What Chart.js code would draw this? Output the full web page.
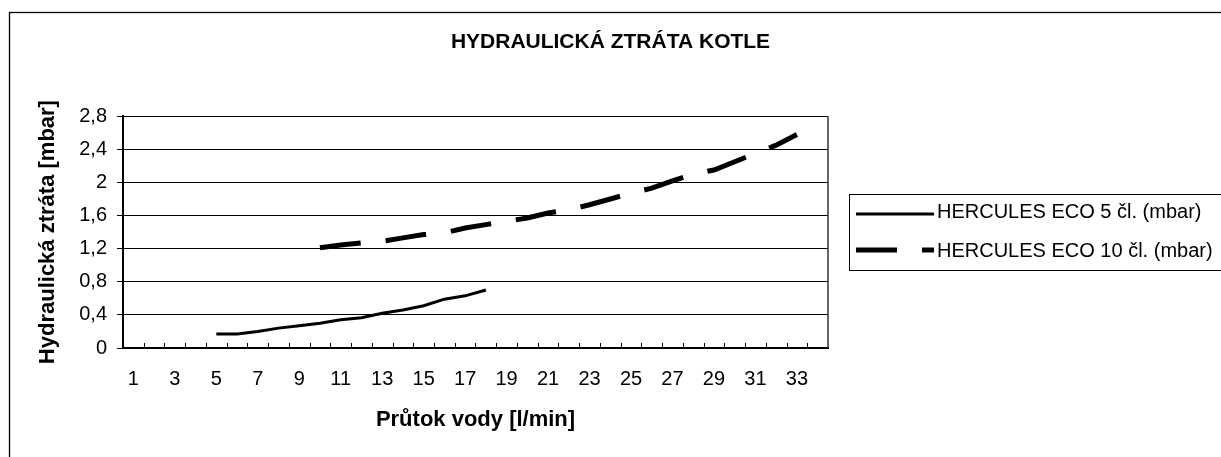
<!DOCTYPE html>
<html>
<head>
<meta charset="utf-8">
<script src="https://cdn.jsdelivr.net/npm/chart.js@4"></script>
<style>
  html, body { margin: 0; padding: 0; background: #fff; }
  #wrap { width: 1221px; height: 457px; }
</style>
</head>
<body>
<div id="wrap"><canvas id="lossChart" width="1221" height="457"></canvas></div>
<script>
// flow categories 1..34 l/min (labels shown on every other one)
const flowLabels = ['1','2','3','4','5','6','7','8','9','10','11','12','13','14','15','16','17',
  '18','19','20','21','22','23','24','25','26','27','28','29','30','31','32','33','34'];

// HERCULES ECO 5 čl. -> 5..18 l/min
const eco5Values = [null, null, null, null,
  0.17, 0.17, 0.20, 0.24, 0.27, 0.30, 0.34, 0.365, 0.42, 0.46, 0.51, 0.59, 0.63, 0.70,
  null, null, null, null, null, null, null, null, null, null, null, null, null, null, null, null];

// HERCULES ECO 10 čl. -> 10..33 l/min
const eco10Values = [null, null, null, null, null, null, null, null, null,
  1.21, 1.245, 1.27, 1.29, 1.33, 1.37, 1.39, 1.45, 1.49, 1.53, 1.57, 1.63, 1.67,
  1.73, 1.80, 1.87, 1.93, 2.02, 2.10, 2.15, 2.25, 2.35, 2.45, 2.58,
  null];

const yTickValues = [0, 0.4, 0.8, 1.2, 1.6, 2, 2.4, 2.8];

const seriesNames = ['HERCULES ECO 5 čl. (mbar)', 'HERCULES ECO 10 čl. (mbar)'];

const FONT = "'Liberation Sans', Arial, sans-serif";
Chart.defaults.color = '#000';
Chart.defaults.font.family = FONT;

// outer frame, plot border, inner x ticks and legend box
const excelLook = {
  id: 'excelLook',
  beforeDraw(chart) {
    const ctx = chart.ctx;
    ctx.save();
    ctx.fillStyle = '#fff';
    ctx.fillRect(0, 0, chart.width, chart.height);
    ctx.strokeStyle = '#000';
    ctx.lineWidth = 1.3;
    ctx.strokeRect(9.5, 12.5, 1300, 500);
    ctx.restore();
  },
  afterDraw(chart) {
    const ctx = chart.ctx;
    const area = chart.chartArea;
    const xs = chart.scales.x;
    ctx.save();
    // right border of plot
    ctx.strokeStyle = '#333';
    ctx.lineWidth = 1.5;
    ctx.beginPath();
    ctx.moveTo(area.right, area.top);
    ctx.lineTo(area.right, area.bottom);
    ctx.stroke();
    // tick marks between categories, pointing up into the plot
    const step = xs.getPixelForValue(1) - xs.getPixelForValue(0);
    ctx.strokeStyle = '#000';
    ctx.lineWidth = 1;
    for (let i = 1; i < flowLabels.length; i++) {
      const x = Math.round(xs.getPixelForValue(0) - step / 2 + i * step) + 0.5;
      ctx.beginPath();
      ctx.moveTo(x, area.bottom);
      ctx.lineTo(x, area.bottom - 5);
      ctx.stroke();
    }
    // legend
    const lx = 849, top = 194, bottom = 270;
    ctx.lineWidth = 1;
    ctx.strokeRect(lx + 0.5, top + 0.5, 400, bottom - top);
    const rows = [212, 251];
    ctx.font = '20px ' + FONT;
    ctx.textBaseline = 'middle';
    ctx.textAlign = 'left';
    chart.data.datasets.forEach((ds, i) => {
      const y = rows[i];
      ctx.strokeStyle = ds.borderColor;
      ctx.lineWidth = ds.borderWidth;
      ctx.setLineDash(ds.borderDash || []);
      ctx.beginPath();
      ctx.moveTo(856, y + (i === 0 ? 2 : -1));
      ctx.lineTo(934, y + (i === 0 ? 2 : -1));
      ctx.stroke();
      ctx.setLineDash([]);
      ctx.fillStyle = '#000';
      ctx.fillText(ds.label, 937, y);
    });
    ctx.restore();
  }
};

new Chart(document.getElementById('lossChart'), {
  type: 'line',
  data: {
    labels: flowLabels,
    datasets: [{
      label: seriesNames[0],
      data: eco5Values,
      borderColor: '#000',
      borderWidth: 3,
      pointRadius: 0,
      tension: 0
    }, {
      label: seriesNames[1],
      data: eco10Values,
      borderColor: '#000',
      borderWidth: 5,
      borderDash: [41, 25],
      borderCapStyle: 'butt',
      pointRadius: 0,
      tension: 0
    }]
  },
  options: {
    responsive: false,
    animation: false,
    devicePixelRatio: 1,
    layout: { padding: { left: 0, top: 12, right: 0, bottom: 19 } },
    plugins: {
      legend: { display: false },
      tooltip: { enabled: false },
      title: {
        display: true,
        text: 'HYDRAULICKÁ ZTRÁTA KOTLE',
        color: '#000',
        font: { size: 21, weight: 'bold' },
        padding: { top: 18, bottom: 61 }
      }
    },
    scales: {
      x: {
        offset: true,
        grid: { display: false, drawTicks: false },
        border: { display: true, color: '#000', width: 2 },
        ticks: {
          autoSkip: false,
          maxRotation: 0,
          padding: 19,
          font: { size: 20 },
          callback: (v, i) => (i % 2 === 0 ? flowLabels[i] : '')
        },
        title: {
          display: true,
          text: 'Průtok vody [l/min]',
          font: { size: 22, weight: 'bold' },
          padding: { top: 0, bottom: 5 }
        },
        afterFit: (s) => { s.height = 90; }
      },
      y: {
        min: 0,
        max: 2.8,
        grid: { color: '#000', lineWidth: 1, tickLength: 6, tickColor: '#000' },
        border: { display: true, color: '#000', width: 2 },
        afterBuildTicks: (s) => { s.ticks = yTickValues.map(v => ({ value: v })); },
        ticks: {
          padding: 10,
          font: { size: 20 },
          callback: (v) => String(Math.round(v * 10) / 10).replace('.', ',')
        },
        title: {
          display: true,
          text: 'Hydraulická ztráta [mbar]',
          font: { size: 22, weight: 'bold' },
          padding: { top: 35, bottom: 0 }
        },
        afterFit: (s) => { s.width = 123; }
      },
      // empty right-hand axis that keeps room for the legend
      legendSpace: {
        type: 'linear',
        position: 'right',
        display: true,
        grid: { display: false },
        border: { display: false },
        ticks: { display: false },
        afterFit: (s) => { s.width = 393; }
      }
    }
  },
  plugins: [excelLook]
});
</script>
</body>
</html>
